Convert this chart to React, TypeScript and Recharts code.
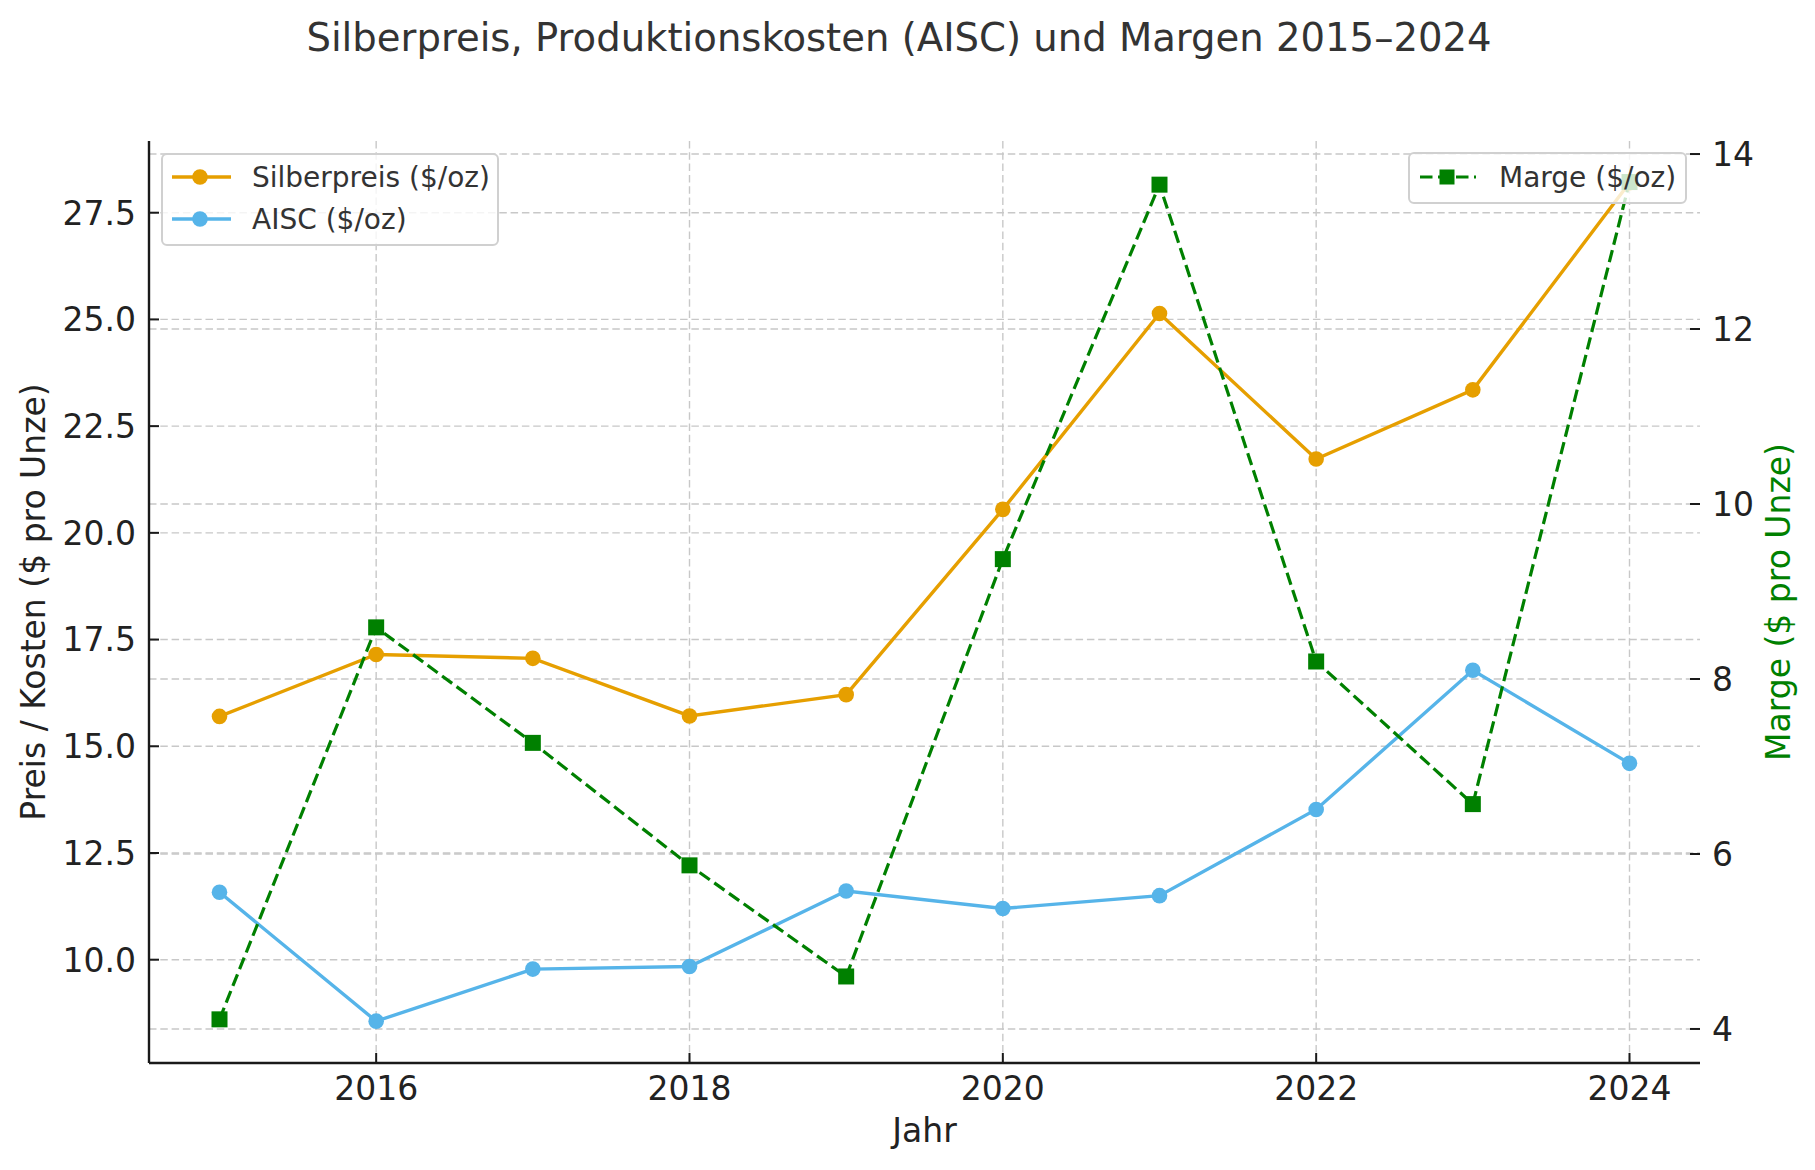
import React from 'react';
import { LineChart, Line, XAxis, YAxis, CartesianGrid } from 'recharts';

const years = [2015, 2016, 2017, 2018, 2019, 2020, 2021, 2022, 2023, 2024];
const silverPrice = [15.7, 17.15, 17.06, 15.71, 16.21, 20.55, 25.14, 21.73, 23.35, 28.2];
const aiscCost = [11.58, 8.56, 9.78, 9.84, 11.61, 11.2, 11.5, 13.52, 16.78, 14.6];
const margin = [4.11, 8.59, 7.27, 5.87, 4.6, 9.37, 13.65, 8.2, 6.57, 13.68];

const xTicks = [2016, 2018, 2020, 2022, 2024];
const leftTicks = [10, 12.5, 15, 17.5, 20, 22.5, 25, 27.5];
const rightTicks = [4, 6, 8, 10, 12, 14];

const TITLE = 'Silberpreis, Produktionskosten (AISC) und Margen 2015–2024';
const X_LABEL = 'Jahr';
const LEFT_LABEL = 'Preis / Kosten ($ pro Unze)';
const RIGHT_LABEL = 'Marge ($ pro Unze)';

const SILVER = '#E69F00';
const AISC = '#56B4E9';
const GREEN = '#008000';

const leftSeries = [
  { key: 'silver', name: 'Silberpreis ($/oz)', color: SILVER },
  { key: 'aisc', name: 'AISC ($/oz)', color: AISC },
];
const rightSeries = [{ key: 'marge', name: 'Marge ($/oz)', color: GREEN }];

const rows = years.map((y, i) => ({
  year: y,
  silver: silverPrice[i],
  aisc: aiscCost[i],
  marge: margin[i],
}));

const FONT = '"DejaVu Sans", "Liberation Sans", sans-serif';
const TICK_FS = 33;
const TEXT = '#222222';
const AXIS = '#1a1a1a';
const GRID = '#c8c8c8';
const TM_L = 13;
const TM_R = 12;
const TM_B = 12;
const TICK_LEN = 10;
const DOT_R = 7.8;
const GREEN_DASH = '12.5 5.5';

const LeftTick = (p: any) => {
  const { x, y, payload } = p;
  const ax = x + TM_L;
  return (
    <g>
      <line x1={ax} x2={ax + TICK_LEN} y1={y} y2={y} stroke={AXIS} strokeWidth={2} />
      <text x={x} y={y} dy="0.36em" textAnchor="end" fontFamily={FONT} fontSize={TICK_FS} fill={TEXT}>
        {Number(payload.value).toFixed(1)}
      </text>
    </g>
  );
};

const RightTick = (p: any) => {
  const { x, y, payload } = p;
  const ax = x - TM_R;
  return (
    <g>
      <line x1={ax - TICK_LEN} x2={ax} y1={y} y2={y} stroke={AXIS} strokeWidth={2} />
      <text x={x} y={y} dy="0.36em" textAnchor="start" fontFamily={FONT} fontSize={TICK_FS} fill={TEXT}>
        {String(payload.value)}
      </text>
    </g>
  );
};

const BottomTick = (p: any) => {
  const { x, y, payload } = p;
  const ay = y - TM_B;
  return (
    <g>
      <line x1={x} x2={x} y1={ay - TICK_LEN} y2={ay} stroke={AXIS} strokeWidth={2} />
      <text x={x} y={y} dy={25} textAnchor="middle" fontFamily={FONT} fontSize={TICK_FS} fill={TEXT}>
        {String(payload.value)}
      </text>
    </g>
  );
};

const XLabel = (p: any) => {
  const vb = p.viewBox || {};
  return (
    <text x={vb.x + vb.width / 2} y={vb.y + 79} textAnchor="middle" fontFamily={FONT} fontSize={TICK_FS} fill={TEXT}>
      {X_LABEL}
    </text>
  );
};

const LeftLabel = (p: any) => {
  const vb = p.viewBox || {};
  const cx = vb.x + 45;
  const cy = vb.y + vb.height / 2;
  return (
    <text x={cx} y={cy} transform={`rotate(-90, ${cx}, ${cy})`} textAnchor="middle" fontFamily={FONT} fontSize={TICK_FS} fill={TEXT}>
      {LEFT_LABEL}
    </text>
  );
};

const RightLabel = (p: any) => {
  const vb = p.viewBox || {};
  const cx = vb.x + 90;
  const cy = vb.y + vb.height / 2;
  return (
    <text x={cx} y={cy} transform={`rotate(-90, ${cx}, ${cy})`} textAnchor="middle" fontFamily={FONT} fontSize={TICK_FS} fill={GREEN}>
      {RIGHT_LABEL}
    </text>
  );
};

const SquareDot = (p: any) => {
  const { cx, cy, index } = p;
  if (cx == null || cy == null) return <g key={`sq-${index}`} />;
  return <rect key={`sq-${index}`} x={cx - 8} y={cy - 8} width={16} height={16} fill={GREEN} />;
};

const LegendOverlay = () => {
  const legFs = 28;
  return (
    <svg width={1815} height={300} style={{ position: 'absolute', left: 0, top: 0, pointerEvents: 'none' }}>
      <text x={899} y={51} textAnchor="middle" fontFamily={FONT} fontSize={38.6} fill="#333333">
        {TITLE}
      </text>
      <g transform="translate(162,154)">
        <rect x={0} y={0} width={336} height={91} rx={5} ry={5} fill="rgba(255,255,255,0.8)" stroke="#d0d0d0" strokeWidth={2} />
        {leftSeries.map((s, i) => {
          const cy = 23 + i * 42;
          return (
            <g key={s.key}>
              <line x1={10} x2={69} y1={cy} y2={cy} stroke={s.color} strokeWidth={3.4} />
              <circle cx={38} cy={cy} r={DOT_R} fill={s.color} />
              <text x={90} y={cy + 9.5} fontFamily={FONT} fontSize={legFs} fill="#333333">
                {s.name}
              </text>
            </g>
          );
        })}
      </g>
      <g transform="translate(1409,153)">
        <rect x={0} y={0} width={277} height={50} rx={5} ry={5} fill="rgba(255,255,255,0.8)" stroke="#d0d0d0" strokeWidth={2} />
        {rightSeries.map((s) => {
          const cy = 24;
          return (
            <g key={s.key}>
              <line x1={11} x2={67} y1={cy} y2={cy} stroke={s.color} strokeWidth={3.2} strokeDasharray={GREEN_DASH} />
              <rect x={38 - 7.5} y={cy - 7.5} width={15} height={15} fill={s.color} />
              <text x={90} y={cy + 10} fontFamily={FONT} fontSize={legFs} fill="#333333">
                {s.name}
              </text>
            </g>
          );
        })}
      </g>
    </svg>
  );
};

export default function App() {
  return (
    <div style={{ position: 'absolute', left: 0, top: 0, width: 1815, height: 1170, background: '#ffffff', fontFamily: FONT }}>
      <LineChart width={1815} height={1170} data={rows} margin={{ top: 141, right: 0, bottom: 0, left: 0 }}>
        <CartesianGrid
          yAxisId="left"
          syncWithTicks
          horizontalValues={leftTicks}
          verticalValues={xTicks}
          stroke={GRID}
          strokeWidth={1.4}
          strokeDasharray="7.5 3.8"
          vertical={true}
          horizontal={true}
        />
        <CartesianGrid
          yAxisId="right"
          syncWithTicks
          horizontalValues={rightTicks}
          stroke={GRID}
          strokeWidth={1.4}
          strokeDasharray="7.5 3.8"
          vertical={false}
          horizontal={true}
        />
        <XAxis
          dataKey="year"
          type="number"
          domain={[2014.55, 2024.45]}
          allowDataOverflow
          ticks={xTicks}
          height={107}
          tickSize={0}
          tickMargin={TM_B}
          tickLine={false}
          tick={BottomTick}
          axisLine={{ stroke: AXIS, strokeWidth: 2.4 }}
          label={{ value: X_LABEL, content: XLabel }}
        />
        <YAxis
          yAxisId="left"
          orientation="left"
          type="number"
          domain={[7.58, 29.18]}
          allowDataOverflow
          ticks={leftTicks}
          width={149}
          tickSize={0}
          tickMargin={TM_L}
          tickLine={false}
          tick={LeftTick}
          axisLine={{ stroke: AXIS, strokeWidth: 2.4 }}
          label={{ value: LEFT_LABEL, content: LeftLabel }}
        />
        <YAxis
          yAxisId="right"
          orientation="right"
          type="number"
          domain={[3.611, 14.149]}
          allowDataOverflow
          ticks={rightTicks}
          width={115}
          tickSize={0}
          tickMargin={TM_R}
          tickLine={false}
          tick={RightTick}
          axisLine={false}
          label={{ value: RIGHT_LABEL, content: RightLabel }}
        />
        <Line
          yAxisId="left"
          dataKey="silver"
          name={leftSeries[0].name}
          stroke={SILVER}
          strokeWidth={3.4}
          dot={{ r: DOT_R, fill: SILVER, stroke: SILVER, strokeWidth: 0 }}
          activeDot={false}
          isAnimationActive={false}
        />
        <Line
          yAxisId="left"
          dataKey="aisc"
          name={leftSeries[1].name}
          stroke={AISC}
          strokeWidth={3.4}
          dot={{ r: DOT_R, fill: AISC, stroke: AISC, strokeWidth: 0 }}
          activeDot={false}
          isAnimationActive={false}
        />
        <Line
          yAxisId="right"
          dataKey="marge"
          name={rightSeries[0].name}
          stroke={GREEN}
          strokeWidth={3.2}
          strokeDasharray={GREEN_DASH}
          dot={SquareDot}
          activeDot={false}
          isAnimationActive={false}
        />
      </LineChart>
      <LegendOverlay />
    </div>
  );
}
